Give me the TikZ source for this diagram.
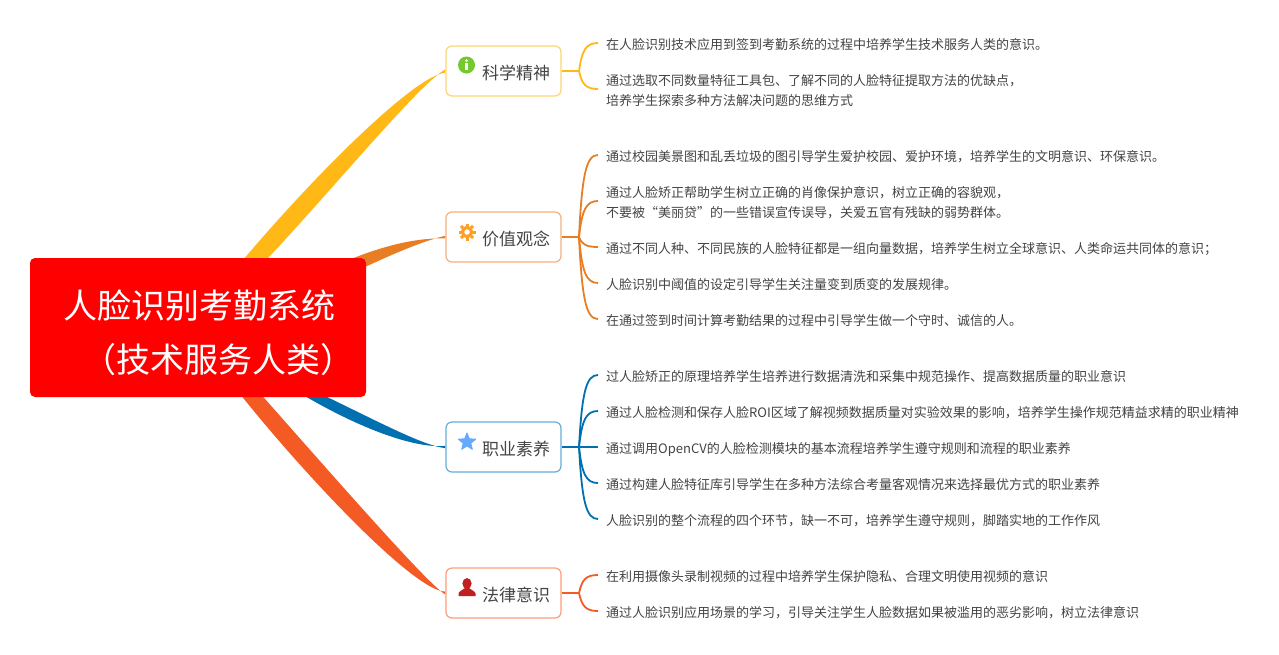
\documentclass[tikz,border=0pt]{standalone}
\usepackage{fontspec}
\setmainfont{Noto Sans CJK SC}
\usetikzlibrary{calc,backgrounds,shapes.geometric}
\definecolor{cy}{HTML}{FFB815}
\definecolor{co}{HTML}{E87D24}
\definecolor{cb}{HTML}{0070B0}
\definecolor{cr}{HTML}{F45B24}
\definecolor{by}{HTML}{FFD470}
\definecolor{bo}{HTML}{F5B07E}
\definecolor{bb}{HTML}{66AEDA}
\definecolor{br}{HTML}{FF9C7C}
\definecolor{tx}{HTML}{444444}
\definecolor{ig}{HTML}{73C92E}
\definecolor{ic}{HTML}{FFA024}
\definecolor{is}{HTML}{66AAFF}
\definecolor{ip}{HTML}{C02020}
\tikzset{
  rootbox/.style={fill=red,text=white,rounded corners=5pt,minimum width=336pt,minimum height=139pt,inner xsep=0pt,inner ysep=0pt,text width=336pt,align=left,font=\fontsize{34}{54}\selectfont},
  topicbox/.style={draw=#1,fill=white,line width=1.2pt,rounded corners=6pt,minimum width=115pt,minimum height=50pt,inner sep=0pt,text=tx,text height=18pt,text depth=2pt,font=\fontsize{17}{20}\selectfont},
  leaf/.style={anchor=west,inner xsep=8pt,inner ysep=0pt,align=left,text=tx,font=\fontsize{13}{20}\selectfont},
  trunk/.style={line width=2.6pt},
  twig/.style={line width=1.8pt}
}
\newcommand{\taper}[9]{\fill[#2] ([yshift=-#9pt]#1.west) .. controls #3 and #4 .. #5 -- #6 .. controls #7 and #8 .. ([yshift=#9pt]#1.west) -- cycle;}
\newcommand{\twigs}[3]{\draw[trunk,#1] (#2.east) -- (#2.east-|579,0) coordinate (j#2);
  \foreach \l in {#3}{\draw[twig,#1] (j#2) .. controls ($(j#2)!0.75!(j#2|-\l.west)+(3,-1.5)$) and ($(j#2|-\l.west)+(7,-2)$) .. ($(\l.west)+(0,-2)$);}}
\begin{document}
\begin{tikzpicture}[x=1pt,y=-1pt]
\useasboundingbox (0,0) rectangle (1279,654);
\node[rootbox] (root) at (198,327.5) {\hspace*{33pt}\rule{0pt}{39pt}人脸识别考勤系统\\\hspace*{52pt}（技术服务人类）};
\node[topicbox=by] (t1) at (503.5,71) {\hspace*{25pt}科学精神};
\node[topicbox=bo] (t2) at (503.5,237) {\hspace*{25pt}价值观念};
\node[topicbox=bb] (t3) at (503.5,447) {\hspace*{25pt}职业素养};
\node[topicbox=br] (t4) at (503.5,593) {\hspace*{25pt}法律意识};
\node[leaf] (a1) at (598,45) {在人脸识别技术应用到签到考勤系统的过程中培养学生技术服务人类的意识。};
\node[leaf] (a2) at (598,91) {通过选取不同数量特征工具包、了解不同的人脸特征提取方法的优缺点，\\培养学生探索多种方法解决问题的思维方式};
\node[leaf] (b1) at (598,157) {通过校园美景图和乱丢垃圾的图引导学生爱护校园、爱护环境，培养学生的文明意识、环保意识。};
\node[leaf] (b2) at (598,203) {通过人脸矫正帮助学生树立正确的肖像保护意识，树立正确的容貌观，\\不要被“美丽贷”的一些错误宣传误导，关爱五官有残缺的弱势群体。};
\node[leaf] (b3) at (598,249) {通过不同人种、不同民族的人脸特征都是一组向量数据，培养学生树立全球意识、人类命运共同体的意识；};
\node[leaf] (b4) at (598,285) {人脸识别中阈值的设定引导学生关注量变到质变的发展规律。};
\node[leaf] (b5) at (598,321) {在通过签到时间计算考勤结果的过程中引导学生做一个守时、诚信的人。};
\node[leaf] (c1) at (598,377) {过人脸矫正的原理培养学生培养进行数据清洗和采集中规范操作、提高数据质量的职业意识};
\node[leaf] (c2) at (598,413) {通过人脸检测和保存人脸ROI区域了解视频数据质量对实验效果的影响，培养学生操作规范精益求精的职业精神};
\node[leaf] (c3) at (598,449) {通过调用OpenCV的人脸检测模块的基本流程培养学生遵守规则和流程的职业素养};
\node[leaf] (c4) at (598,485) {通过构建人脸特征库引导学生在多种方法综合考量客观情况来选择最优方式的职业素养};
\node[leaf] (c5) at (598,521) {人脸识别的整个流程的四个环节，缺一不可，培养学生遵守规则，脚踏实地的工作作风};
\node[leaf] (d1) at (598,577) {在利用摄像头录制视频的过程中培养学生保护隐私、合理文明使用视频的意识};
\node[leaf] (d2) at (598,613) {通过人脸识别应用场景的学习，引导关注学生人脸数据如果被滥用的恶劣影响，树立法律意识};
\begin{scope}[on background layer]
\fill[white] (0,0) rectangle (1279,654);
\taper{t1}{cy}{(412,76)}{(300,190)}{(228,278)}{(249,278)}{(322,203)}{(418,84)}{1.6}
\taper{t2}{co}{(420,238)}{(385,243)}{(330,268)}{(335,281)}{(392,254)}{(420,242)}{1.3}
\taper{t3}{cb}{(420,445)}{(370,417)}{(300,384)}{(285,384)}{(355,428)}{(415,449)}{1.2}
\taper{t4}{cr}{(428,586)}{(302,440)}{(241,372)}{(223,372)}{(283,452)}{(412,592)}{1.4}
\twigs{cy}{t1}{a1,a2}
\twigs{co}{t2}{b1,b2,b3,b4,b5}
\twigs{cb}{t3}{c1,c2,c3,c4,c5}
\twigs{cr}{t4}{d1,d2}
\end{scope}
% icons
\fill[ig] (466.5,65) circle (8.5);
\fill[white] (466.5,60.6) circle (1.5);
\fill[white] (465.2,63.2) rectangle (467.8,70.4);
\foreach \a in {0,45,...,315}{\draw[ic,line width=3pt] (467,232)++(\a:4.5) -- ++(\a:4);}
\draw[ic,line width=3.2pt] (467,232) circle (4.6);
\node[star,star points=5,star point ratio=2.3,fill=is,draw=is,line join=round,line width=1pt,minimum size=18pt,inner sep=0pt] (s3) at (467,442) {};
\fill[ip] (467,583.5) ellipse (4.6 and 5.5);
\fill[ip] (458.5,596) -- (458.5,593.5) .. controls (459,591) and (463,590) .. (465,588) -- (469,588) .. controls (471,590) and (475,591) .. (475.5,593.5) -- (475.5,596) -- cycle;
\end{tikzpicture}
\end{document}
